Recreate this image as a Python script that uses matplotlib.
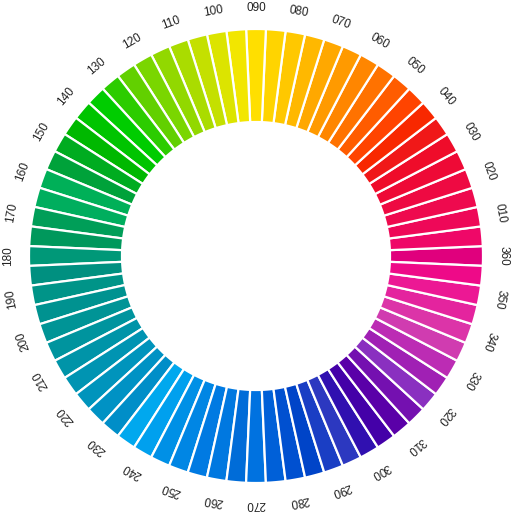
import numpy as np
import matplotlib
matplotlib.use("Agg")
import matplotlib.pyplot as plt

# hue angle of each segment (degrees), one segment every 5 degrees
angles = list(range(0, 360, 5))

# colour of each segment (0, 5, 10, ... 355)
colors = [
    "#e0007d", "#ef0868", "#ee0858", "#ee0a4e", "#ee0a42", "#ee0a36",  # 0-25
    "#ef0c2a", "#f01818", "#f82800", "#ff4400", "#ff5c00", "#ff7200",  # 30-55
    "#ff8600", "#ff9a00", "#ffa800", "#ffb800", "#ffc800", "#ffd400",  # 60-85
    "#ffdf00", "#f2e600", "#dce400", "#c4e000", "#aadc00", "#92d800",  # 90-115
    "#7ad600", "#62d000", "#2ccc00", "#00cc00", "#00c400", "#00b800",  # 120-145
    "#00ac20", "#00a23a", "#00b058", "#00ae5e", "#009e58", "#00985c",  # 150-175
    "#009878", "#009080", "#009488", "#009290", "#009496", "#00949e",  # 180-205
    "#0094a8", "#0094b2", "#0094bc", "#0092c4", "#008ec8", "#00a8ee",  # 210-235
    "#00a0ee", "#0090e6", "#0086e4", "#007ae2", "#0078e0", "#006cd8",  # 240-265
    "#0072e0", "#0060d8", "#0050d0", "#0044c8", "#1a3ec4", "#2c38c0",  # 270-295
    "#3010b0", "#4400a8", "#5a00a8", "#7410b0", "#8a30c0", "#a020b4",  # 300-325
    "#bc2cb4", "#d03cb0", "#dc34a8", "#e4249e", "#ec1894", "#ee0a88",  # 330-355
]

# tick labels every 10 degrees
label_angles = list(range(10, 361, 10))
labels = ["%03d" % a for a in label_angles]

fig = plt.figure(figsize=(5.12, 5.12), dpi=100)
ax = fig.add_axes([0, 0, 1, 1], projection="polar")
ax.set_ylim(0, 256)
ax.set_axis_off()

theta = np.deg2rad(angles)
ax.bar(theta, 93, width=np.deg2rad(5), bottom=134, color=colors,
       edgecolor="white", linewidth=1.6, align="center")

for a, lab in zip(label_angles, labels):
    ax.text(np.deg2rad(a), 248, lab, rotation=a - 90, rotation_mode="anchor",
            ha="center", va="center", fontsize=8.5, color="#222222",
            family="Liberation Sans")

fig.savefig("out.png", dpi=100, facecolor="white")
